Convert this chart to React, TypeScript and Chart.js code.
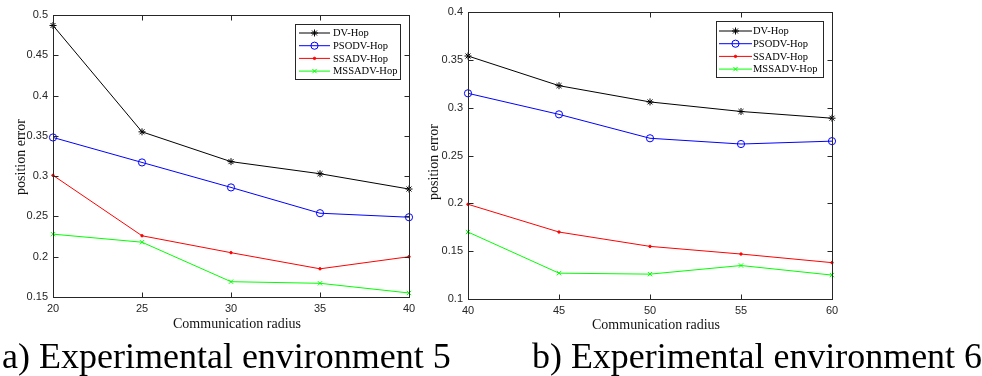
import React, { useEffect, useRef } from 'react';
import { Chart, registerables } from 'chart.js';
import { drawPoint } from 'chart.js/helpers';

Chart.register(...registerables);

const seriesNames = ['DV-Hop', 'PSODV-Hop', 'SSADV-Hop', 'MSSADV-Hop'];

// Panel a) Experimental environment 5
const radiusA = [20, 25, 30, 35, 40];
const dvHopA = [0.487, 0.355, 0.318, 0.303, 0.284];
const psoA = [0.348, 0.317, 0.286, 0.254, 0.249];
const ssaA = [0.301, 0.226, 0.205, 0.185, 0.2];
const mssaA = [0.228, 0.218, 0.169, 0.167, 0.155];

// Panel b) Experimental environment 6
const radiusB = [40, 45, 50, 55, 60];
const dvHopB = [0.354, 0.323, 0.306, 0.296, 0.289];
const psoB = [0.315, 0.293, 0.268, 0.262, 0.265];
const ssaB = [0.199, 0.17, 0.155, 0.147, 0.138];
const mssaB = [0.17, 0.127, 0.126, 0.135, 0.125];

const captionA = 'a) Experimental environment 5';
const captionB = 'b) Experimental environment 6';
const xTitle = 'Communication radius';
const yTitle = 'position error';

const W = 982;
const H = 376;

const styles = [
  { color: '#000000', pointStyle: 'star', radius: 3.5, fill: false },
  { color: '#0000ff', pointStyle: 'circle', radius: 3.6, fill: false },
  { color: '#ff0000', pointStyle: 'circle', radius: 1.2, fill: true },
  { color: '#00ff00', pointStyle: 'crossRot', radius: 3, fill: false },
];

const AXIS = '#262626';

type Panel = {
  x: number[];
  ys: number[][];
  xMin: number; xMax: number; xStep: number;
  yMin: number; yMax: number; yStep: number;
  area: { left: number; right: number; top: number; bottom: number };
  legend: { x: number; y: number; w: number; h: number; row0: number; step: number; l0: number; l1: number; tx: number };
  yT: { x: number; y: number };
  xT: { x: number; y: number };
  cap: { text: string; x: number; y: number; w: number };
};

const panels: Panel[] = [
  {
    x: radiusA, ys: [dvHopA, psoA, ssaA, mssaA],
    xMin: 20, xMax: 40, xStep: 5, yMin: 0.15, yMax: 0.5, yStep: 0.05,
    area: { left: 53, right: 409, top: 15, bottom: 297 },
    legend: { x: 295.5, y: 24.5, w: 105, h: 55, row0: 33, step: 12.7, l0: 299, l1: 330, tx: 333 },
    yT: { x: 21, y: 157 },
    xT: { x: 237, y: 328 },
    cap: { text: captionA, x: 2, y: 367.5, w: 454 },
  },
  {
    x: radiusB, ys: [dvHopB, psoB, ssaB, mssaB],
    xMin: 40, xMax: 60, xStep: 5, yMin: 0.1, yMax: 0.4, yStep: 0.05,
    area: { left: 468, right: 832, top: 12, bottom: 299 },
    legend: { x: 716.5, y: 21.5, w: 107, h: 56, row0: 31, step: 12.7, l0: 719, l1: 752, tx: 753 },
    yT: { x: 434, y: 162 },
    xT: { x: 656, y: 329 },
    cap: { text: captionB, x: 532, y: 367.5, w: 450 },
  },
];

function fmt(v: number) {
  return String(Number(v.toFixed(3)));
}

function makeDecor(p: Panel) {
  return {
    id: 'decor',
    afterDraw(chart: any) {
      const ctx = chart.ctx;
      const ca = chart.chartArea;
      const xs = chart.scales.x;
      const ysc = chart.scales.y;
      ctx.save();
      // box
      ctx.strokeStyle = AXIS;
      ctx.lineWidth = 1;
      const L = Math.round(ca.left) + 0.5;
      const R = Math.round(ca.right) + 0.5;
      const T = Math.round(ca.top) + 0.5;
      const B = Math.round(ca.bottom) + 0.5;
      ctx.strokeRect(L, T, R - L, B - T);
      // inward ticks
      const tl = 5;
      ctx.beginPath();
      xs.ticks.forEach((t: any) => {
        const px = Math.round(xs.getPixelForValue(t.value)) + 0.5;
        ctx.moveTo(px, B); ctx.lineTo(px, B - tl);
        ctx.moveTo(px, T); ctx.lineTo(px, T + tl);
      });
      ysc.ticks.forEach((t: any) => {
        const py = Math.round(ysc.getPixelForValue(t.value)) + 0.5;
        ctx.moveTo(L, py); ctx.lineTo(L + tl, py);
        ctx.moveTo(R, py); ctx.lineTo(R - tl, py);
      });
      ctx.stroke();

      // axis titles
      ctx.fillStyle = '#111';
      ctx.font = '14px "Liberation Serif", serif';
      ctx.textAlign = 'center';
      ctx.textBaseline = 'alphabetic';
      ctx.fillText(xTitle, p.xT.x, p.xT.y);
      ctx.save();
      ctx.translate(p.yT.x, p.yT.y);
      ctx.rotate(-Math.PI / 2);
      ctx.textBaseline = 'middle';
      ctx.fillText(yTitle, 0, 0);
      ctx.restore();

      // legend
      const lg = p.legend;
      ctx.fillStyle = '#ffffff';
      ctx.fillRect(lg.x, lg.y, lg.w, lg.h);
      ctx.strokeStyle = AXIS;
      ctx.lineWidth = 1;
      ctx.strokeRect(lg.x, lg.y, lg.w, lg.h);
      ctx.font = '10.5px "Liberation Serif", serif';
      ctx.textAlign = 'left';
      ctx.textBaseline = 'middle';
      seriesNames.forEach((name, i) => {
        const st = styles[i];
        const y = lg.row0 + i * lg.step;
        ctx.strokeStyle = st.color;
        ctx.fillStyle = st.color;
        ctx.lineWidth = 1;
        ctx.beginPath();
        ctx.moveTo(lg.l0, y);
        ctx.lineTo(lg.l1, y);
        ctx.stroke();
        ctx.fillStyle = st.fill ? st.color : 'rgba(0,0,0,0)';
        drawPoint(ctx, { pointStyle: st.pointStyle, radius: st.radius, rotation: 0, borderWidth: 1 } as any, (lg.l0 + lg.l1) / 2, y);
        ctx.fillStyle = '#000';
        ctx.fillText(name, lg.tx, y + 0.5);
      });

      // caption
      ctx.fillStyle = '#000';
      ctx.font = '36px "Liberation Serif", serif';
      ctx.textAlign = 'left';
      ctx.textBaseline = 'alphabetic';
      ctx.fillText(p.cap.text, p.cap.x, p.cap.y, p.cap.w);
      ctx.restore();
    },
  };
}

function PanelChart({ p }: { p: Panel }) {
  const ref = useRef<HTMLCanvasElement>(null);
  useEffect(() => {
    if (!ref.current) return;
    const yW = 40;
    const chart = new Chart(ref.current, {
      type: 'line',
      data: {
        datasets: p.ys.map((arr, i) => ({
          label: seriesNames[i],
          data: arr.map((v, j) => ({ x: p.x[j], y: v })),
          borderColor: styles[i].color,
          borderWidth: 1,
          pointStyle: styles[i].pointStyle as any,
          pointRadius: styles[i].radius,
          pointBorderWidth: 1,
          pointBorderColor: styles[i].color,
          pointBackgroundColor: styles[i].fill ? styles[i].color : 'rgba(0,0,0,0)',
          tension: 0,
          fill: false,
          clip: false as any,
        })),
      },
      options: {
        animation: false,
        responsive: false,
        events: [],
        layout: {
          padding: {
            left: p.area.left - yW,
            right: W - p.area.right,
            top: p.area.top,
            bottom: 0,
          },
        },
        plugins: { legend: { display: false }, tooltip: { enabled: false } },
        scales: {
          x: {
            type: 'linear',
            min: p.xMin,
            max: p.xMax,
            grid: { display: false, drawTicks: false, tickLength: 0 },
            border: { display: false },
            ticks: {
              stepSize: p.xStep,
              padding: 5,
              color: AXIS,
              font: { family: '"Liberation Sans", Arial, sans-serif', size: 11 },
              maxRotation: 0,
              callback: (v: any) => fmt(Number(v)),
            },
            afterFit: (s: any) => { s.height = H - p.area.bottom; },
          },
          y: {
            type: 'linear',
            min: p.yMin,
            max: p.yMax,
            grid: { display: false, drawTicks: false, tickLength: 0 },
            border: { display: false },
            ticks: {
              stepSize: p.yStep,
              padding: 5,
              color: AXIS,
              font: { family: '"Liberation Sans", Arial, sans-serif', size: 11 },
              callback: (v: any) => fmt(Number(v)),
            },
            afterFit: (s: any) => { s.width = yW; },
          },
        },
      },
      plugins: [makeDecor(p)],
    });
    return () => chart.destroy();
  }, [p]);
  return (
    <canvas
      ref={ref}
      width={W}
      height={H}
      style={{ position: 'absolute', left: 0, top: 0, width: W, height: H, display: 'block' }}
    />
  );
}

export default function App() {
  return (
    <div style={{ position: 'absolute', left: 0, top: 0, width: W, height: H, background: '#fff', overflow: 'hidden' }}>
      {panels.map((p, i) => (
        <PanelChart key={i} p={p} />
      ))}
    </div>
  );
}
